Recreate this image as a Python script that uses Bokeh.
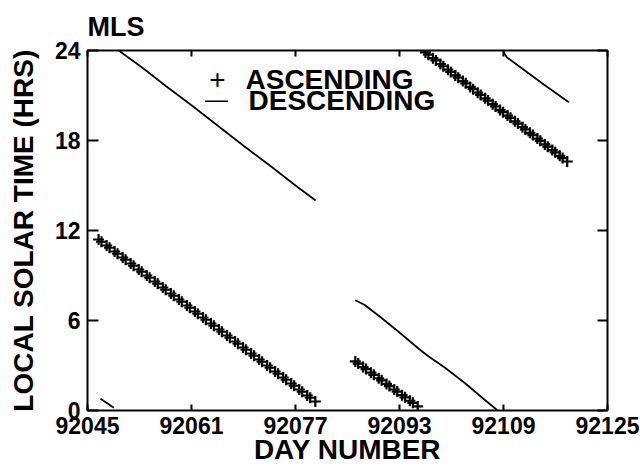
import math
from bokeh.plotting import figure
from bokeh.models import LinearAxis, FixedTicker, Label, Range1d, ColumnDataSource
from bokeh.embed import file_html
from bokeh.resources import INLINE

# ---- data ----
x_ticks = [92045, 92061, 92077, 92093, 92109, 92125]
y_ticks = [0, 6, 12, 18, 24]

# ascending passes (day number, local solar time in hours)
asc1_day = [92046.70, 92047.15, 92047.94, 92048.39, 92049.17, 92049.62, 92050.41, 92050.86,
            92051.64, 92052.09, 92052.88, 92053.33, 92054.11, 92054.56, 92055.35, 92055.80,
            92056.58, 92057.03, 92057.82, 92058.27, 92059.05, 92059.50, 92060.29, 92060.74,
            92061.52, 92061.97, 92062.76, 92063.21, 92063.99, 92064.44, 92065.23, 92065.68,
            92066.46, 92066.91, 92067.70, 92068.15, 92068.93, 92069.38, 92070.17, 92070.62,
            92071.40, 92071.85, 92072.64, 92073.09, 92073.87, 92074.32, 92075.11, 92075.56,
            92076.34, 92076.79, 92077.58, 92078.03, 92078.81, 92079.26, 92080.05]
asc1_lst = [11.40, 11.25, 11.00, 10.85, 10.60, 10.45, 10.20, 10.05,
            9.80, 9.65, 9.40, 9.25, 9.00, 8.85, 8.60, 8.45,
            8.20, 8.05, 7.80, 7.65, 7.40, 7.25, 7.00, 6.85,
            6.60, 6.45, 6.20, 6.05, 5.80, 5.65, 5.40, 5.25,
            5.00, 4.85, 4.60, 4.45, 4.20, 4.05, 3.80, 3.65,
            3.40, 3.25, 3.00, 2.85, 2.60, 2.45, 2.20, 2.05,
            1.80, 1.65, 1.40, 1.25, 1.00, 0.85, 0.60]

asc2_day = [92086.20, 92086.65, 92087.40, 92087.85, 92088.60, 92089.05, 92089.80, 92090.25,
            92091.00, 92091.45, 92092.20, 92092.65, 92093.40, 92093.85, 92094.60, 92095.05,
            92095.80]
asc2_lst = [3.27, 3.13, 2.90, 2.76, 2.52, 2.38, 2.15, 2.01,
            1.77, 1.63, 1.40, 1.26, 1.02, 0.88, 0.65, 0.51,
            0.27]

asc3_day = [92097.00, 92097.45, 92098.15, 92098.60, 92099.29, 92099.74, 92100.44, 92100.89,
            92101.59, 92102.04, 92102.74, 92103.19, 92103.88, 92104.33, 92105.03, 92105.48,
            92106.18, 92106.63, 92107.33, 92107.78, 92108.47, 92108.92, 92109.62, 92110.07,
            92110.77, 92111.22, 92111.92, 92112.37, 92113.06, 92113.51, 92114.21, 92114.66,
            92115.36, 92115.81, 92116.51, 92116.96, 92117.65, 92118.10, 92118.80]
asc3_lst = [23.87, 23.72, 23.49, 23.34, 23.10, 22.95, 22.72, 22.57,
            22.34, 22.19, 21.96, 21.81, 21.57, 21.42, 21.19, 21.04,
            20.81, 20.66, 20.42, 20.27, 20.04, 19.89, 19.66, 19.51,
            19.28, 19.13, 18.89, 18.74, 18.51, 18.36, 18.13, 17.98,
            17.74, 17.59, 17.36, 17.21, 16.98, 16.83, 16.60]

# descending passes
desc0_day = [92047.0, 92049.05]
desc0_lst = [0.78, 0.18]

desc1_day = [92049.8, 92053.6, 92057.0, 92061.0, 92065.0, 92069.0, 92073.0, 92077.0, 92080.1]
desc1_lst = [24.0, 22.8, 21.65, 20.35, 19.0, 17.65, 16.35, 15.0, 14.0]

desc2_day = [92086.2, 92087.6, 92090.0, 92093.0, 92096.0, 92097.5, 92100.0, 92103.0, 92106.0, 92108.1]
desc2_lst = [7.35, 7.05, 6.25, 5.2, 4.1, 3.6, 2.85, 1.85, 0.75, 0.0]

desc3_day = [92108.95, 92109.5, 92115.2, 92119.05]
desc3_lst = [23.95, 23.55, 21.73, 20.55]

FONT = "Liberation Sans"

asc_src = ColumnDataSource(dict(x=asc1_day + asc2_day + asc3_day,
                                y=asc1_lst + asc2_lst + asc3_lst))
nan = float("nan")
dx, dy = [], []
for d, l in [(desc0_day, desc0_lst), (desc1_day, desc1_lst),
             (desc2_day, desc2_lst), (desc3_day, desc3_lst)]:
    dx += d + [nan]
    dy += l + [nan]
desc_src = ColumnDataSource(dict(x=dx, y=dy))

p = figure(frame_width=520, frame_height=360, output_backend="svg", toolbar_location=None,
           x_range=Range1d(92045, 92125), y_range=Range1d(0, 24),
           min_border_left=87, min_border_right=33, min_border_top=50,
           min_border_bottom=60, background_fill_color="white",
           border_fill_color="white")
p.grid.visible = False
p.outline_line_color = "black"
p.outline_line_width = 2

p.title.text = "MLS"
p.title.text_font = FONT
p.title.text_font_size = "27px"
p.title.text_font_style = "bold"
p.title.text_color = "black"
p.title.align = "left"
p.title.vertical_align = "middle"
p.title.standoff = 16

for ax in p.xaxis:
    ax.ticker = FixedTicker(ticks=x_ticks)
    ax.axis_label = "DAY NUMBER"
    ax.axis_label_text_font = FONT
    ax.axis_label_text_font_size = "28px"
    ax.axis_label_text_font_style = "bold"
    ax.axis_label_text_color = "black"
    ax.axis_label_standoff = -3
    ax.major_label_text_font = FONT
    ax.major_label_text_font_size = "23px"
    ax.major_label_text_font_style = "bold"
    ax.major_label_text_color = "black"
    ax.major_label_standoff = 6
    ax.major_tick_in = 6
    ax.major_tick_out = 0
    ax.major_tick_line_width = 2
    ax.minor_tick_line_color = None
    ax.axis_line_color = None

for ax in p.yaxis:
    ax.ticker = FixedTicker(ticks=y_ticks)
    ax.axis_label = "LOCAL SOLAR TIME (HRS)"
    ax.axis_label_text_font = FONT
    ax.axis_label_text_font_size = "28px"
    ax.axis_label_text_font_style = "bold"
    ax.axis_label_text_color = "black"
    ax.axis_label_standoff = 13
    ax.major_label_text_font = FONT
    ax.major_label_text_font_size = "23px"
    ax.major_label_text_font_style = "bold"
    ax.major_label_text_color = "black"
    ax.major_label_standoff = 7
    ax.major_label_orientation = "horizontal"
    ax.major_tick_in = 11
    ax.major_tick_out = 0
    ax.major_tick_line_width = 2
    ax.minor_tick_line_color = None
    ax.axis_line_color = None

top = LinearAxis(ticker=FixedTicker(ticks=x_ticks), major_label_text_font_size="0px",
                 major_label_text_color=None,
                 major_label_standoff=0, major_tick_in=6, major_tick_out=0,
                 major_tick_line_width=2, minor_tick_line_color=None, axis_line_color=None)
p.add_layout(top, "above")
right = LinearAxis(ticker=FixedTicker(ticks=y_ticks), major_label_text_font_size="0px",
                   major_label_text_color=None,
                   major_label_standoff=0, major_tick_in=10, major_tick_out=0,
                   major_tick_line_width=2, minor_tick_line_color=None, axis_line_color=None)
p.add_layout(right, "right")

p.line("x", "y", source=desc_src, line_color="black", line_width=1.7)
p.scatter("x", "y", source=asc_src, marker="cross", size=11, line_color="black",
          line_width=2.2)

# legend drawn as text
txt_style = dict(x_units="canvas", y_units="canvas", text_font=FONT,
                 text_color="black", text_baseline="alphabetic")
p.add_layout(Label(x=217, y=79, text="+", text_align="center", text_font_size="28px",
                   **txt_style))
p.add_layout(Label(x=245, y=79, text="ASCENDING", text_font_size="28px",
                   text_font_style="bold", **txt_style))
p.add_layout(Label(x=216, y=98, text="\u2014", text_align="center", text_font_size="23px",
                   **txt_style))
p.add_layout(Label(x=248, y=100, text="DESCENDING", text_font_size="28px",
                   text_font_style="bold", **txt_style))

open("out.html", "w").write(file_html(p, INLINE))
